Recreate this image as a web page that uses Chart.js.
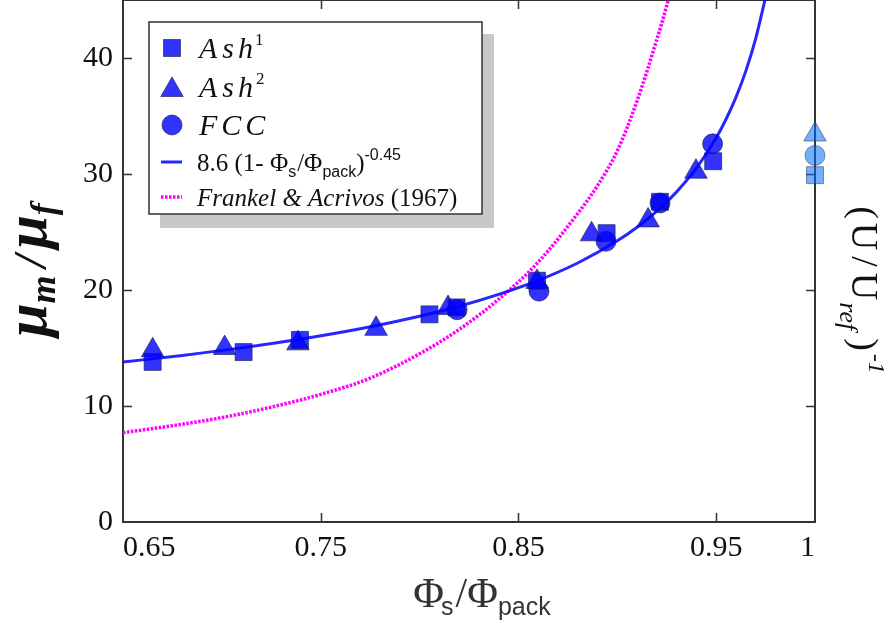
<!DOCTYPE html>
<html>
<head>
<meta charset="utf-8">
<script src="https://cdn.jsdelivr.net/npm/chart.js@4/dist/chart.umd.min.js"></script>
<style>
  html, body { margin: 0; padding: 0; background: #fff; }
  #wrap { width: 894px; height: 623px; }
</style>
</head>
<body>
<div id="wrap"><canvas id="myChart" width="894" height="623"></canvas></div>
<script>
// measured points
const ash1X = [0.665, 0.711, 0.7395, 0.805, 0.8187, 0.8594, 0.8946, 0.9216, 0.9485];
const ash1Y = [13.8, 14.65, 15.7, 17.9, 18.5, 20.8, 24.9, 27.6, 31.1];
const ash2X = [0.665, 0.7014, 0.7385, 0.778, 0.8144, 0.8594, 0.887, 0.9156, 0.9398];
const ash2Y = [14.8, 15.0, 15.4, 16.65, 18.45, 20.7, 24.8, 26.0, 30.2];
const fccX = [0.819, 0.8604, 0.8943, 0.9216, 0.9482];
const fccY = [18.3, 19.9, 24.2, 27.5, 32.6];

// reference values at phi = 1
const refX = [1, 1, 1];
const refY = [29.9, 33.4, 31.6]; // Ash1, Ash2, FCC

// fitted curve 8.6 (1 - phi)^-0.45
const fitX = [0.65, 0.68, 0.71, 0.74, 0.77, 0.80, 0.82, 0.84, 0.86, 0.88, 0.90, 0.91, 0.92, 0.93, 0.94, 0.95, 0.955, 0.96, 0.965, 0.97, 0.975];
const fitY = [13.79, 14.36, 15.01, 15.77, 16.66, 17.74, 18.60, 19.62, 20.83, 22.33, 24.24, 25.41, 26.80, 28.46, 30.50, 33.11, 34.72, 36.61, 38.87, 41.67, 45.23];

// Frankel & Acrivos curve
const faX = [0.65, 0.675, 0.70, 0.725, 0.75, 0.775, 0.80, 0.82, 0.84, 0.86, 0.88, 0.89, 0.90, 0.91, 0.92, 0.925, 0.93];
const faY = [7.7, 8.3, 9.0, 9.9, 11.0, 12.4, 14.5, 16.6, 19.2, 22.4, 26.6, 29.0, 32.0, 36.3, 41.6, 44.5, 47.8];

const xTicks = [0.65, 0.75, 0.85, 0.95, 1];
const xTickLabels = ["0.65", "0.75", "0.85", "0.95", "1"];
const yTicks = [0, 10, 20, 30, 40];

const pts = (xs, ys) => xs.map((x, i) => ({ x: x, y: ys[i] }));

const markFill = "rgba(0,0,255,0.8)";
const markBorder = "rgba(30,30,70,0.65)";
const refFill = "rgba(0,110,255,0.55)";
const refBorder = "rgba(60,60,80,0.55)";
const faDash = [2.5, 1.5];

// draws a list of text runs one after another
function runs(ctx, list, x, y) {
  let cx = x;
  list.forEach(r => {
    ctx.font = r.font;
    cx += (r.pre || 0);
    ctx.fillText(r.t, cx, y + (r.dy || 0));
    cx += ctx.measureText(r.t).width + (r.post || 0);
  });
  return cx - x;
}
function runsWidth(ctx, list) {
  let w = 0;
  list.forEach(r => {
    ctx.font = r.font;
    w += (r.pre || 0) + ctx.measureText(r.t).width + (r.post || 0);
  });
  return w;
}

const frame = {
  id: "frame",
  beforeDatasetsDraw(chart) {
    const ctx = chart.ctx;
    const a = chart.chartArea;
    const xs = chart.scales.x, ys = chart.scales.y;
    ctx.save();
    ctx.strokeStyle = "#333";
    ctx.lineWidth = 2;
    ctx.strokeRect(a.left, a.top, a.right - a.left, a.bottom - a.top);
    ctx.lineWidth = 1.5;
    const tl = 9;
    [0.75, 0.85, 0.95].forEach(v => {
      const px = Math.round(xs.getPixelForValue(v)) + 0.5;
      ctx.beginPath();
      ctx.moveTo(px, a.bottom); ctx.lineTo(px, a.bottom - tl);
      ctx.moveTo(px, a.top); ctx.lineTo(px, a.top + tl);
      ctx.stroke();
    });
    [10, 20, 30, 40].forEach(v => {
      const py = Math.round(ys.getPixelForValue(v)) + 0.5;
      ctx.beginPath();
      ctx.moveTo(a.left, py); ctx.lineTo(a.left + tl, py);
      ctx.moveTo(a.right, py); ctx.lineTo(a.right - tl, py);
      ctx.stroke();
    });
    ctx.restore();
  },
  afterDraw(chart) {
    const ctx = chart.ctx;
    const H = Chart.helpers;
    ctx.save();
    ctx.fillStyle = "#111";
    ctx.textBaseline = "alphabetic";
    ctx.textAlign = "left";

    // x title
    const xt = [
      { t: "Φ", font: '42px "Liberation Serif"' },
      { t: "s", font: '25px "Liberation Sans"', dy: 8, pre: -3 },
      { t: "/", font: '42px "Liberation Serif"', pre: 2 },
      { t: "Φ", font: '42px "Liberation Serif"' },
      { t: "pack", font: '25px "Liberation Sans"', dy: 8 }
    ];
    ctx.fillStyle = "#333";
    runs(ctx, xt, 482 - runsWidth(ctx, xt) / 2, 607);

    // left y title
    ctx.fillStyle = "#111";
    const yt = [
      { t: "μ", font: 'bold italic 60px "Liberation Serif"' },
      { t: "m", font: 'bold italic 36px "Liberation Serif"', dy: 9 },
      { t: "/", font: 'bold italic 46px "Liberation Serif"', pre: 8, post: 6 },
      { t: "μ", font: 'bold italic 60px "Liberation Serif"' },
      { t: "f", font: 'bold italic 36px "Liberation Serif"', dy: 9 }
    ];
    ctx.save();
    ctx.translate(46, 270);
    ctx.rotate(-Math.PI / 2);
    runs(ctx, yt, -runsWidth(ctx, yt) / 2, 0);
    ctx.restore();

    // right y title
    const rt = [
      { t: "(", font: '38px "Liberation Serif"' },
      { t: "U", font: '38px "Liberation Serif"', pre: 4 },
      { t: "/", font: '38px "Liberation Serif"', pre: 6, post: 6 },
      { t: "U", font: '38px "Liberation Serif"' },
      { t: "ref", font: 'italic 26px "Liberation Serif"', dy: 12, pre: 2 },
      { t: ")", font: '38px "Liberation Serif"', pre: 8 },
      { t: "-1", font: 'italic 24px "Liberation Serif"', dy: -17, pre: 3 }
    ];
    ctx.save();
    ctx.translate(852, 290);
    ctx.rotate(Math.PI / 2);
    runs(ctx, rt, -runsWidth(ctx, rt) / 2, 0);
    ctx.restore();

    // legend box
    ctx.fillStyle = "#c8c8c8";
    ctx.fillRect(160, 34, 334, 194);
    ctx.fillStyle = "#fff";
    ctx.fillRect(149, 22, 333, 192);
    ctx.strokeStyle = "#333";
    ctx.lineWidth = 1.5;
    ctx.strokeRect(149, 22, 333, 192);

    const mk = { borderWidth: 1, rotation: 0 };
    ctx.fillStyle = markFill; ctx.strokeStyle = markBorder; ctx.lineWidth = 1;
    H.drawPoint(ctx, Object.assign({}, mk, { pointStyle: "rect", radius: 12 }), 172, 48);
    ctx.fillStyle = markFill; ctx.strokeStyle = markBorder;
    H.drawPoint(ctx, Object.assign({}, mk, { pointStyle: "triangle", radius: 13 }), 172, 90);
    ctx.fillStyle = markFill; ctx.strokeStyle = markBorder;
    H.drawPoint(ctx, Object.assign({}, mk, { pointStyle: "circle", radius: 10 }), 172, 125);

    ctx.strokeStyle = "rgba(0,0,255,0.85)"; ctx.lineWidth = 3;
    ctx.beginPath(); ctx.moveTo(161, 162); ctx.lineTo(182, 162); ctx.stroke();
    ctx.strokeStyle = "#ff00ff"; ctx.lineWidth = 3.5; ctx.setLineDash(faDash);
    ctx.beginPath(); ctx.moveTo(161, 197); ctx.lineTo(182, 197); ctx.stroke();
    ctx.setLineDash([]);

    ctx.fillStyle = "#111";
    const it = 'italic 30px "Liberation Serif"';
    const sup = '17px "Liberation Serif"';
    runs(ctx, [{ t: "A", font: it }, { t: "s", font: it, pre: 5 }, { t: "h", font: it, pre: 4 }, { t: "1", font: sup, dy: -13, pre: 2 }], 199, 58);
    runs(ctx, [{ t: "A", font: it }, { t: "s", font: it, pre: 5 }, { t: "h", font: it, pre: 4 }, { t: "2", font: sup, dy: -13, pre: 3 }], 199, 97);
    runs(ctx, [{ t: "F", font: it }, { t: "C", font: it, pre: 4 }, { t: "C", font: it, pre: 4 }], 199, 135);
    const rf = '25px "Liberation Serif"';
    const sf = '16px "Liberation Sans"';
    runs(ctx, [
      { t: "8.6 (1- ", font: rf },
      { t: "Φ", font: rf },
      { t: "s", font: sf, dy: 6 },
      { t: "/", font: rf, pre: 1 },
      { t: "Φ", font: rf },
      { t: "pack", font: sf, dy: 6 },
      { t: ")", font: rf },
      { t: "-0.45", font: sf, dy: -11 }
    ], 197, 171);
    runs(ctx, [
      { t: "Frankel & Acrivos ", font: 'italic 25px "Liberation Serif"' },
      { t: "(1967)", font: rf }
    ], 197, 206);
    ctx.restore();
  }
};

const data = {
  datasets: [
    {
      type: "line",
      label: "fit",
      data: pts(fitX, fitY),
      borderColor: "rgba(0,0,255,0.85)",
      borderWidth: 3,
      pointRadius: 0,
      fill: false,
      cubicInterpolationMode: "monotone"
    },
    {
      type: "line",
      label: "Frankel & Acrivos (1967)",
      data: pts(faX, faY),
      borderColor: "#ff00ff",
      borderWidth: 3.5,
      borderDash: faDash,
      pointRadius: 0,
      fill: false,
      cubicInterpolationMode: "monotone"
    },
    {
      label: "Ash1",
      data: pts(ash1X, ash1Y),
      pointStyle: "rect",
      pointRadius: 12,
      backgroundColor: markFill,
      borderColor: markBorder,
      borderWidth: 1,
      clip: false
    },
    {
      label: "Ash2",
      data: pts(ash2X, ash2Y),
      pointStyle: "triangle",
      pointRadius: 13,
      backgroundColor: markFill,
      borderColor: markBorder,
      borderWidth: 1,
      clip: false
    },
    {
      label: "FCC",
      data: pts(fccX, fccY),
      pointStyle: "circle",
      pointRadius: 10,
      backgroundColor: markFill,
      borderColor: markBorder,
      borderWidth: 1,
      clip: false
    },
    {
      label: "ref",
      data: pts(refX, refY),
      pointStyle: ["rect", "triangle", "circle"],
      pointRadius: [12, 13, 10],
      backgroundColor: refFill,
      borderColor: refBorder,
      borderWidth: 1,
      clip: false
    }
  ]
};

const tickFont = { family: "Liberation Serif", size: 30 };
const noPad = s => { s.paddingTop = 0; s.paddingBottom = 0; s.paddingLeft = 0; s.paddingRight = 0; };

const config = {
  type: "scatter",
  data: data,
  plugins: [frame],
  options: {
    responsive: false,
    animation: false,
    events: [],
    layout: { autoPadding: false, padding: { top: -2, left: 0, right: 0, bottom: 0 } },
    scales: {
      x: {
        type: "linear",
        min: 0.65,
        max: 1,
        grid: { display: false, drawTicks: false },
        border: { display: false },
        afterBuildTicks: s => { s.ticks = xTicks.map(v => ({ value: v })); },
        afterFit: s => { s.height = 101; noPad(s); },
        ticks: {
          font: tickFont,
          color: "#111",
          padding: 8,
          align: "inner",
          maxRotation: 0,
          autoSkip: false,
          callback: (v, i) => xTickLabels[i]
        }
      },
      y: {
        type: "linear",
        min: 0,
        max: 45,
        grid: { display: false, drawTicks: false },
        border: { display: false },
        afterBuildTicks: s => { s.ticks = yTicks.map(v => ({ value: v })); },
        afterFit: s => { s.width = 123; noPad(s); },
        ticks: { font: tickFont, color: "#111", padding: 10 }
      },
      y2: {
        type: "linear",
        position: "right",
        min: 0,
        max: 45,
        grid: { display: false, drawTicks: false },
        border: { display: false },
        ticks: { display: false },
        afterFit: s => { s.width = 79; noPad(s); }
      }
    },
    plugins: {
      legend: { display: false },
      tooltip: { enabled: false }
    }
  }
};

const myChart = new Chart(document.getElementById("myChart"), config);
</script>
</body>
</html>
